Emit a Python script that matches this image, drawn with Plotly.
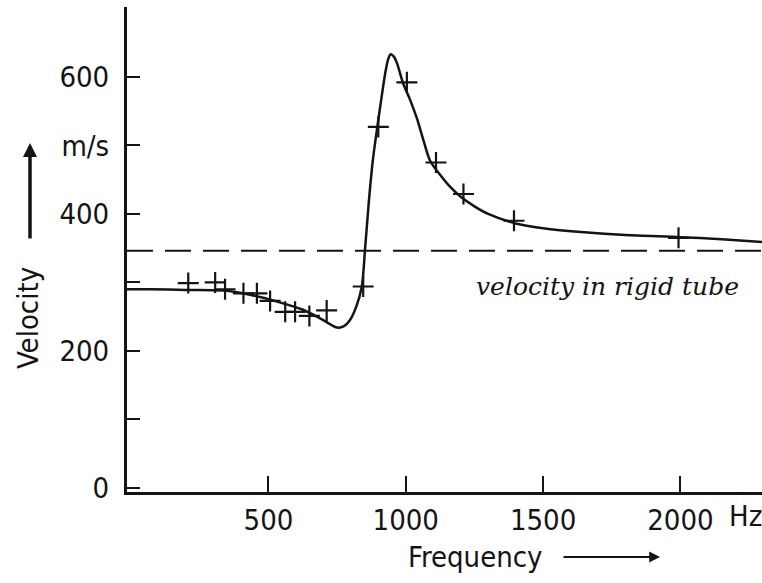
import plotly.graph_objects as go

# Fitted curve (frequency Hz, velocity m/s)
curve_f = [-15, 69, 200, 335, 433, 531, 626, 699, 750, 775, 797, 820, 840, 852, 866, 880, 895, 910, 925,
           936, 945, 956, 968, 990, 1016, 1040, 1064, 1088, 1125, 1160, 1200, 1250, 1300, 1400, 1500, 1650,
           1800, 2000, 2150, 2300]
curve_v = [290, 290, 289, 288, 282, 272, 260, 245, 234, 236, 245, 265, 294, 350, 420, 478, 523, 565, 605,
           626, 633, 630, 620, 591, 566, 540, 508, 478, 457, 440, 425, 411, 400, 386, 379, 373,
           369, 366, 363, 359]

# Measured points
meas_f = [208, 306, 342, 409, 458, 506, 561, 597, 649, 712, 845, 900, 1004, 1110, 1210, 1394, 1993]
meas_v = [299, 300, 290, 284, 284, 273, 257, 257, 251, 259, 294, 527, 592, 475, 429, 390, 365]

rigid_v = 346
x_range = [-15, 2297]
y_range = [-6, 702]

y_tickvals = [0, 100, 200, 300, 400, 500, 600]
y_ticktext = ["0", "", "200", "", "400", "m/s", "600"]
x_tickvals = [500, 1000, 1500, 2000]
x_ticktext = ["500", "1000", "1500", "2000"]

FONT = "DejaVu Sans Condensed, Liberation Sans Narrow, sans-serif"
INK = "#141414"

fig = go.Figure()
fig.add_trace(go.Scatter(x=x_range, y=[rigid_v, rigid_v], mode="lines",
                         line=dict(color=INK, width=2, dash="26px,12px"), hoverinfo="skip"))
fig.add_trace(go.Scatter(x=curve_f, y=curve_v, mode="lines",
                         line=dict(color=INK, width=2.5, shape="spline", smoothing=0.8)))
fig.add_trace(go.Scatter(x=meas_f, y=meas_v, mode="markers",
                         marker=dict(symbol="cross-thin", size=15, line=dict(color=INK, width=2.2))))

fig.update_layout(
    width=762, height=583, showlegend=False,
    margin=dict(l=127, r=0, t=7, b=91),
    paper_bgcolor="white", plot_bgcolor="white",
    font=dict(family=FONT, size=29, color=INK),
)
fig.update_xaxes(range=x_range, showgrid=False, zeroline=False, showline=True, linecolor=INK, linewidth=2.5,
                 ticks="inside", ticklen=16, tickwidth=2, tickcolor=INK,
                 tickvals=x_tickvals, ticktext=x_ticktext, tickfont=dict(size=29, family=FONT))
fig.update_yaxes(range=y_range, showgrid=False, zeroline=False, showline=True, linecolor=INK, linewidth=3,
                 ticks="inside", ticklen=13, tickwidth=2, tickcolor=INK,
                 tickvals=y_tickvals, ticktext=y_ticktext, tickfont=dict(size=29, family=FONT),
                 ticklabelstandoff=9)

def px(x):
    return (x - 127) / 635

def py(y):
    return (492 - y) / 485

anns = [
    dict(x=px(745), y=py(516), text="Hz", showarrow=False, font=dict(size=29, family=FONT)),
    dict(x=px(475), y=py(557), text="Frequency", showarrow=False, font=dict(size=29, family=FONT)),
    dict(x=px(660), y=py(557), text="", showarrow=True, ax=-98, ay=0, arrowhead=2, arrowsize=1.2,
         arrowwidth=1.8, arrowcolor=INK),
    dict(x=px(28), y=py(318), text="Velocity", textangle=-90, showarrow=False, font=dict(size=29, family=FONT)),
    dict(x=px(30), y=py(143), text="", showarrow=True, ax=0, ay=97, arrowhead=2, arrowsize=0.8,
         arrowwidth=3.5, arrowcolor=INK),
    dict(x=px(607), y=py(286), text="velocity in rigid tube", showarrow=False,
         font=dict(size=25, family="DejaVu Serif, serif", style="italic")),
]
for a in anns:
    a.update(xref="paper", yref="paper", xanchor="center", yanchor="middle")
fig.update_layout(annotations=anns)

fig.write_html("out.html")
